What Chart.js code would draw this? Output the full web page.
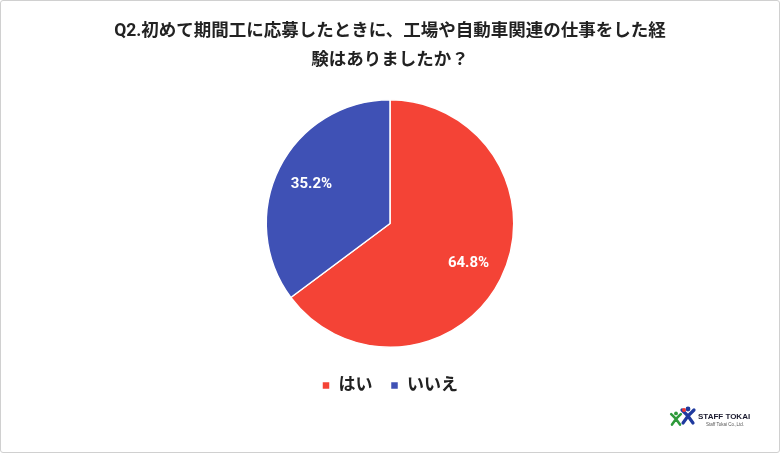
<!DOCTYPE html>
<html><head><meta charset="utf-8">
<script src="https://cdn.jsdelivr.net/npm/chart.js@4"></script>
<style>
html,body{margin:0;padding:0;background:#fff;}
#wrap{position:relative;width:778px;height:451px;border:1px solid #d0d0d0;border-radius:3px;overflow:hidden;}
canvas{display:block;}
</style></head>
<body><div id="wrap"><canvas id="c" width="778" height="451"></canvas></div>
<script>
const titleLines = ["Q2.初めて期間工に応募したときに、工場や自動車関連の仕事をした経", "験はありましたか？"];
const categories = ["はい", "いいえ"];
const values = [64.8, 35.2];
const colors = ["#F44336", "#3F51B5"];
const FONT = "Roboto, 'Noto Sans CJK JP', 'Noto Sans', sans-serif";

const labelPlugin = {
  id: 'pctLabels',
  afterDatasetsDraw(chart) {
    const ctx = chart.ctx;
    const meta = chart.getDatasetMeta(0);
    ctx.save();
    ctx.font = "bold 15px " + FONT;
    ctx.fillStyle = "#fff";
    ctx.textAlign = "center";
    ctx.textBaseline = "middle";
    meta.data.forEach((arc, i) => {
      const p = arc.getProps(['x','y','startAngle','endAngle','outerRadius'], true);
      const mid = (p.startAngle + p.endAngle) / 2;
      const r = p.outerRadius * 0.71;
      ctx.fillText(values[i].toFixed(1) + "%", p.x + Math.cos(mid) * r, p.y + Math.sin(mid) * r);
    });
    ctx.restore();
  }
};

const logoPlugin = {
  id: 'logo',
  afterDraw(chart) {
    const ctx = chart.ctx;
    ctx.save();
    function fig(x, y, s, col) {
      ctx.fillStyle = col; ctx.strokeStyle = col;
      ctx.lineCap = 'round'; ctx.lineWidth = 3.2 * s;
      ctx.beginPath(); ctx.arc(x, y - 7 * s, 2.4 * s, 0, Math.PI * 2); ctx.fill();
      ctx.beginPath();
      ctx.moveTo(x - 6 * s, y - 6 * s); ctx.lineTo(x, y); ctx.lineTo(x + 6 * s, y - 6 * s);
      ctx.moveTo(x, y); ctx.lineTo(x - 5 * s, y + 7 * s);
      ctx.moveTo(x, y); ctx.lineTo(x + 5 * s, y + 7 * s);
      ctx.stroke();
    }
    fig(675, 418, 0.8, '#2e9a3a');
    fig(687, 415, 1.0, '#1f3a9e');
    ctx.beginPath(); ctx.fillStyle = '#e33'; ctx.arc(683, 409, 2, 0, Math.PI*2); ctx.fill();
    ctx.fillStyle = '#1a1a2e';
    ctx.font = "bold 8px 'Liberation Sans', sans-serif";
    ctx.textBaseline = 'middle';
    ctx.fillText('STAFF TOKAI', 697, 416);
    ctx.font = "4.5px 'Liberation Sans', sans-serif";
    ctx.fillStyle = '#555';
    ctx.fillText('Staff Tokai Co.,Ltd.', 705, 424);
    ctx.restore();
  }
};

new Chart(document.getElementById('c'), {
  type: 'pie',
  data: {
    labels: categories,
    datasets: [{ data: values, backgroundColor: colors, borderColor: '#fff', borderWidth: 1.5 }]
  },
  options: {
    responsive: false,
    animation: false,
    layout: { padding: { top: 16, bottom: 48 } },
    plugins: {
      title: {
        display: true,
        text: titleLines,
        color: '#222',
        font: { family: FONT, size: 17.5, weight: 'bold', lineHeight: 1.657 },
        padding: { top: 0, bottom: 24 }
      },
      legend: {
        position: 'bottom',
        title: { display: true, text: '', font: { size: 1, lineHeight: 1 }, padding: { top: 10, bottom: 0 } },
        labels: {
          color: '#222',
          font: { family: FONT, size: 17, weight: 'bold' },
          boxWidth: 8, boxHeight: 8, padding: 18
        }
      },
      tooltip: { enabled: false }
    }
  },
  plugins: [labelPlugin, logoPlugin]
});
</script></body></html>
